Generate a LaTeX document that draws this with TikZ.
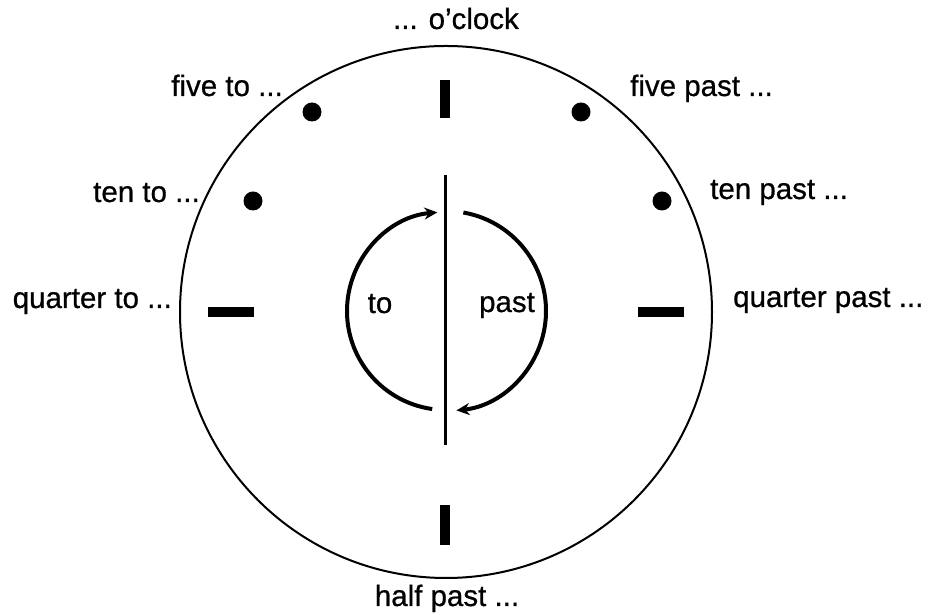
\documentclass[tikz,border=0pt]{standalone}
\usepackage{fontspec}
\setmainfont[FakeBold=0.7]{Liberation Sans}
\usetikzlibrary{arrows.meta}
\tikzset{
  lbl/.style={inner sep=0pt, font=\fontsize{29.5}{32}\selectfont},
  tickmark/.style={line width=10pt},
  dotmark/.style={fill=black},
  turn/.style={line width=4pt, -{Stealth[length=13pt,width=12pt]}}
}
\begin{document}
\begin{tikzpicture}[x=1pt,y=1pt]
\useasboundingbox[fill=white] (0,0) rectangle (930,615);
\coordinate (c) at (446,303);
\draw[line width=2pt] (c) circle[radius=266pt];
% hour marks
\draw[tickmark] (445,535) coordinate (t1) -- (445,497) coordinate (t2);
\draw[tickmark] (445,110) coordinate (b1) -- (445,70) coordinate (b2);
\draw[tickmark] (208,303) coordinate (l1) -- (254,303) coordinate (l2);
\draw[tickmark] (638,303) coordinate (r1) -- (684,303) coordinate (r2);
% dots
\fill[dotmark] (312,503) circle[radius=9.5pt];
\fill[dotmark] (581,503) circle[radius=9.5pt];
\fill[dotmark] (253,414) circle[radius=9.5pt];
\fill[dotmark] (662,414) circle[radius=9.5pt];
% centre line
\draw[line width=3pt] (445,440) coordinate (vt) -- (445,170) coordinate (vb);
% arcs
\coordinate (ic) at (446,304);
\draw[turn] ([shift={(262:99pt)}]ic) arc[start angle=262, end angle=95, radius=99pt];
\draw[turn] ([shift={(80:100pt)}]ic) arc[start angle=80, end angle=-84, radius=100pt];
\node[lbl, anchor=base] (to) at (380,302) {to};
\node[lbl, anchor=base] (past) at (507,303) {past};
% labels
\node[lbl, anchor=base] (oclock) at (456,586) {... o’clock};
\node[lbl, anchor=base east] (fiveto) at (283,519) {five to ...};
\node[lbl, anchor=base west] (fivepast) at (630,519) {five past ...};
\node[lbl, anchor=base east] (tento) at (200,413) {ten to ...};
\node[lbl, anchor=base west] (tenpast) at (710,416) {ten past ...};
\node[lbl, anchor=base east] (qto) at (172,307) {quarter to ...};
\node[lbl, anchor=base west] (qpast) at (733,308) {quarter past ...};
\node[lbl, anchor=base] (half) at (447,9) {half past ...};
\end{tikzpicture}
\end{document}
